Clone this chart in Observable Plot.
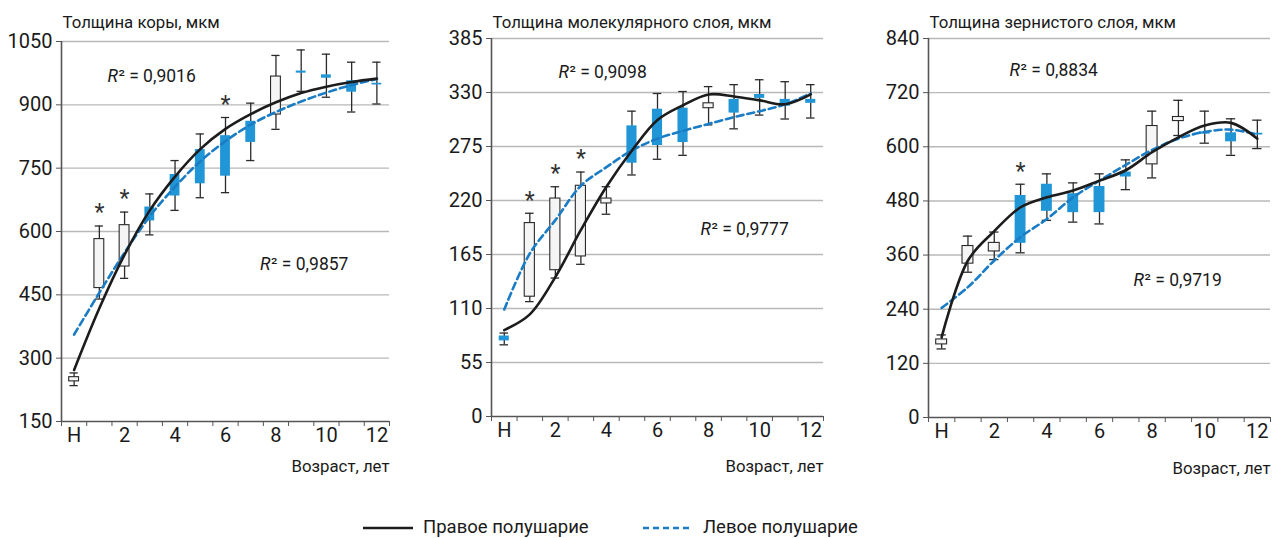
<!DOCTYPE html>
<html>
<head>
<meta charset="utf-8">
<script src="https://cdn.jsdelivr.net/npm/d3@7"></script>
<script src="https://cdn.jsdelivr.net/npm/@observablehq/plot@0.6"></script>
<style>
  body { margin: 0; background: #fff; font-family: Roboto, "Noto Sans", sans-serif; }
  #wrap { position: relative; width: 1273px; height: 538px; overflow: hidden; }
  .panel { position: absolute; top: 0; }
  .lg { position: absolute; font-size: 18.5px; color: #1a1a1a; line-height: 22px; white-space: nowrap; }
</style>
</head>
<body>
<div id="wrap"></div>
<script>
// ---------- data ----------
const categories = ["Н","1","2","3","4","5","6","7","8","9","10","11","12"];
const xTickLabels = ["Н","2","4","6","8","10","12"];
const xAxisTitle = "Возраст, лет";
const legendLabels = ["Правое полушарие", "Левое полушарие"];

// Panel 1: cortex thickness
const cortexTitle = "Толщина коры, мкм";
const cortexTicks = [150, 300, 450, 600, 750, 900, 1050];
const cortexRightTrend = [272, 418, 545, 650, 730, 795, 843, 878, 906, 928, 943, 954, 962];
const cortexLeftTrend  = [356, 455, 550, 636, 706, 766, 814, 853, 883, 908, 929, 947, 961];
const cortexLow  = [235, 440, 489, 592, 650, 680, 692, 768, 842, 932, 918, 883, 902];
const cortexQ1   = [245, 466, 517, 625, 684, 713, 731, 811, 877, 975, 963, 930, 947];
const cortexQ3   = [255, 582, 615, 658, 735, 794, 827, 861, 967, 980, 971, 957, 951];
const cortexHigh = [265, 613, 646, 689, 768, 831, 870, 904, 1017, 1030, 1020, 1001, 1001];
const cortexBoxSide = ["R","R","R","L","L","L","L","L","R","L","L","L","L"];
const cortexStars = ["1","2","6"];
const cortexR2 = ["0,9016", "0,9857"];

// Panel 2: molecular layer thickness
const molTitle = "Толщина молекулярного слоя, мкм";
const molTicks = [0, 55, 110, 165, 220, 275, 330, 385];
const molRightTrend = [88, 104, 142, 190, 234, 271, 302, 317, 328, 326, 322, 318, 328];
const molLeftTrend  = [109, 166, 200, 235, 254, 271, 283, 291, 298, 305, 311, 318, 329];
const molLow  = [73, 117, 141, 155, 206, 246, 262, 266, 297, 293, 307, 303, 304];
const molQ1   = [77, 122, 149, 163, 217, 258, 276, 279, 314, 309, 324, 316, 319];
const molQ3   = [82, 197, 222, 235, 222, 296, 313, 314, 319, 323, 328, 323, 323];
const molHigh = [85, 207, 234, 249, 234, 311, 329, 331, 336, 338, 343, 341, 338];
const molBoxSide = ["L","R","R","R","R","L","L","L","R","L","L","L","L"];
const molStars = ["1","2","3"];
const molR2 = ["0,9098", "0,9777"];

// Panel 3: granular layer thickness
const granTitle = "Толщина зернистого слоя, мкм";
const granTicks = [0, 120, 240, 360, 480, 600, 720, 840];
const granRightTrend = [178, 348, 413, 466, 488, 503, 525, 548, 588, 621, 647, 653, 618];
const granLeftTrend  = [243, 289, 348, 400, 440, 488, 525, 560, 593, 618, 633, 638, 627];
const granLow  = [152, 322, 350, 365, 437, 433, 429, 505, 531, 625, 608, 581, 596];
const granQ1   = [162, 341, 368, 386, 457, 454, 454, 533, 561, 657, 628, 611, 626];
const granQ3   = [173, 380, 387, 492, 517, 496, 512, 544, 646, 666, 633, 631, 630];
const granHigh = [183, 402, 411, 517, 540, 520, 540, 571, 679, 703, 679, 662, 659];
const granBoxSide = ["R","R","R","L","L","L","L","L","R","R","L","L","L"];
const granStars = ["3"];
const granR2 = ["0,8834", "0,9719"];

// ---------- drawing ----------
const BLUE = "#2196d6";
const BLUE_LINE = "#1a7cc5";
const DARK = "#1c1c1c";
const AXIS = "#555";

function panel(cfg) {
  const rows = categories.map((c, i) => ({
    i, c,
    right: cfg.right[i], left: cfg.left[i],
    low: cfg.low[i], q1: cfg.q1[i], q3: cfg.q3[i], high: cfg.high[i],
    side: cfg.side[i], star: cfg.stars.includes(c)
  }));
  const ticks = cfg.ticks;
  const yMin = ticks[0], yMax = ticks[ticks.length - 1];
  const capOpts = {x1: d => d.i - 0.5, x2: d => d.i + 0.5, insetLeft: 8.5, insetRight: 8.5, stroke: "#2a2a2a", strokeWidth: 1.3};
  const boxOpts = {x1: d => d.i - 0.5, x2: d => d.i + 0.5, y1: "q1", y2: "q3", insetLeft: 7.7, insetRight: 7.7};
  const r2Marks = cfg.r2.flatMap((v, k) => [
    Plot.text([v], {x: cfg.r2pos[k][0], y: cfg.r2pos[k][1], text: () => "R", fontStyle: "italic", textAnchor: "start", fontSize: 17.5, fill: "#1a1a1a"}),
    Plot.text([v], {x: cfg.r2pos[k][0], y: cfg.r2pos[k][1], text: d => "² = " + d, dx: 11, textAnchor: "start", fontSize: 17.5, fill: "#1a1a1a"})
  ]);
  return Plot.plot({
    width: cfg.width, height: 480,
    marginLeft: cfg.marginLeft, marginRight: cfg.marginRight,
    marginTop: cfg.marginTop, marginBottom: cfg.marginBottom,
    style: {fontFamily: "Roboto, sans-serif", fontSize: "20px", color: "#1a1a1a", background: "transparent", overflow: "visible"},
    x: {domain: [-0.5, 12.5], axis: null},
    y: {domain: [yMin, yMax], axis: null},
    marks: [
      Plot.gridY(ticks.slice(1), {stroke: "#b8b8b8", strokeOpacity: 1, strokeWidth: 1.4}),
      Plot.axisY(ticks, {tickSize: 5, tickPadding: 4, label: null, stroke: AXIS, fontSize: 20, tickFormat: d => String(d)}),
      Plot.axisX(d3.range(14).map(k => k - 0.5), {tickSize: 5, tickFormat: () => "", label: null, stroke: AXIS}),
      Plot.axisX(xTickLabels.map(l => categories.indexOf(l)), {tickSize: 0, tickPadding: 6, tickFormat: i => categories[i], label: null, fontSize: 20}),
      Plot.ruleY([yMin], {stroke: AXIS, strokeWidth: 1.6}),
      Plot.ruleX([-0.5], {stroke: AXIS, strokeWidth: 1.6}),
      // whiskers
      Plot.ruleX(rows, {x: "i", y1: "low", y2: "high", stroke: "#2a2a2a", strokeWidth: 1.3}),
      Plot.ruleY(rows, {y: "low", ...capOpts}),
      Plot.ruleY(rows, {y: "high", ...capOpts}),
      // boxes
      Plot.rect(rows.filter(d => d.side === "R"), {...boxOpts, fill: "#f5f5f5", stroke: "#2a2a2a", strokeWidth: 1.1}),
      Plot.rect(rows.filter(d => d.side === "L"), {...boxOpts, fill: BLUE}),
      // trend lines
      Plot.line(rows, {x: "i", y: "left", curve: "catmull-rom", stroke: BLUE_LINE, strokeWidth: 2.6, strokeDasharray: "7,4"}),
      Plot.line(rows, {x: "i", y: "right", curve: "catmull-rom", stroke: DARK, strokeWidth: 2.6}),
      // significance marks
      Plot.text(rows.filter(d => d.star), {x: "i", y: "high", text: () => "*", dy: -13, fontSize: 23, fill: "#333"}),
      ...r2Marks,
      // titles
      Plot.text([cfg.title], {frameAnchor: "top-left", text: d => d, dx: 1, dy: 22 - cfg.marginTop, textAnchor: "start", lineAnchor: "middle", fontSize: 16.8, fill: "#1a1a1a"}),
      Plot.text([xAxisTitle], {frameAnchor: "bottom-right", text: d => d, dy: cfg.xTitleDy, textAnchor: "end", lineAnchor: "middle", fontSize: 16.8, fill: "#1a1a1a"})
    ]
  });
}

const wrap = document.getElementById("wrap");
const configs = [
  {left0: 0, width: 400, marginLeft: 61, marginRight: 11, marginTop: 41, marginBottom: 59, xTitleDy: 45,
   title: cortexTitle, ticks: cortexTicks, right: cortexRightTrend, left: cortexLeftTrend,
   low: cortexLow, q1: cortexQ1, q3: cortexQ3, high: cortexHigh, side: cortexBoxSide, stars: cortexStars,
   r2: cortexR2, r2pos: [[1.32, 967], [7.37, 523]]},
  {left0: 430, width: 400, marginLeft: 61, marginRight: 7, marginTop: 38, marginBottom: 64, xTitleDy: 50,
   title: molTitle, ticks: molTicks, right: molRightTrend, left: molLeftTrend,
   low: molLow, q1: molQ1, q3: molQ3, high: molHigh, side: molBoxSide, stars: molStars,
   r2: molR2, r2pos: [[2.12, 350.6], [7.68, 190.6]]},
  {left0: 850, width: 423, marginLeft: 78, marginRight: 3, marginTop: 38, marginBottom: 63, xTitleDy: 51,
   title: granTitle, ticks: granTicks, right: granRightTrend, left: granLeftTrend,
   low: granLow, q1: granQ1, q3: granQ3, high: granHigh, side: granBoxSide, stars: granStars,
   r2: granR2, r2pos: [[2.58, 769.6], [7.29, 303.4]]}
];
for (const cfg of configs) {
  const div = document.createElement("div");
  div.className = "panel";
  div.style.left = cfg.left0 + "px";
  div.appendChild(panel(cfg));
  wrap.appendChild(div);
}

// legend
function legendItem(x0, x1, textX, dashed, color, label) {
  const svgNS = "http://www.w3.org/2000/svg";
  const svg = document.createElementNS(svgNS, "svg");
  svg.setAttribute("width", x1 - x0);
  svg.setAttribute("height", 6);
  svg.style.position = "absolute";
  svg.style.left = x0 + "px";
  svg.style.top = "525px";
  const ln = document.createElementNS(svgNS, "line");
  ln.setAttribute("x1", 0); ln.setAttribute("x2", x1 - x0);
  ln.setAttribute("y1", 3); ln.setAttribute("y2", 3);
  ln.setAttribute("stroke", color); ln.setAttribute("stroke-width", 2.6);
  if (dashed) ln.setAttribute("stroke-dasharray", "6,4");
  svg.appendChild(ln);
  wrap.appendChild(svg);
  const t = document.createElement("div");
  t.className = "lg";
  t.style.left = textX + "px";
  t.style.top = "516px";
  t.textContent = label;
  wrap.appendChild(t);
}
legendItem(363, 413, 423, false, DARK, legendLabels[0]);
legendItem(643, 690, 703, true, BLUE_LINE, legendLabels[1]);
</script>
</body>
</html>
